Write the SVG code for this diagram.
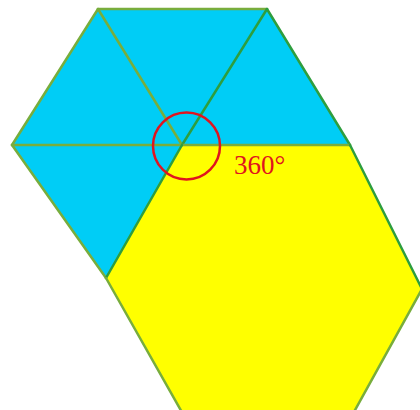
<svg xmlns="http://www.w3.org/2000/svg" width="420" height="410" viewBox="0 0 420 410">
<style>
.blue{fill:#00cdf6;stroke:none}
.yel{fill:#ffff00;stroke:none}
.e{stroke:#78ad3c;stroke-width:2.5;fill:none;stroke-linecap:round}
.g{stroke:#2e9e3e;stroke-width:2.5;fill:none;stroke-linecap:round}
</style>
<rect width="420" height="410" fill="#ffffff"/>
<g id="blue-region">
<polygon class="blue" points="98,9 267,9 350,145 182,145 106,278 12,145"/>
</g>
<g id="yellow-hexagon">
<polygon class="yel" points="182,145 350,145 422,289 344,430 192,430 106,278"/>
</g>
<g id="edges">
<line class="e" x1="98" y1="9" x2="267" y2="9"/>
<line class="e" x1="98" y1="9" x2="12" y2="145"/>
<line class="e" x1="98" y1="9" x2="182" y2="145"/>
<line class="g" x1="267" y1="9" x2="182" y2="145"/>
<line class="g" x1="267" y1="9" x2="350" y2="145"/>
<line class="e" x1="12" y1="145" x2="350" y2="145"/>
<line class="e" x1="12" y1="145" x2="106" y2="278"/>
<line class="g" x1="182" y1="145" x2="106" y2="278"/>
<line class="e" x1="106" y1="278" x2="192" y2="430"/>
<line class="g" x1="350" y1="145" x2="422" y2="289"/>
<line class="e" x1="422" y1="289" x2="344" y2="430"/>
</g>
<g id="angle-mark">
<circle cx="186.5" cy="146" r="33.5" fill="none" stroke="#e0141e" stroke-width="2.5"/>
<text x="234" y="174" font-family="'Liberation Serif', serif" font-size="27" fill="#e0141e">360°</text>
</g>
</svg>
